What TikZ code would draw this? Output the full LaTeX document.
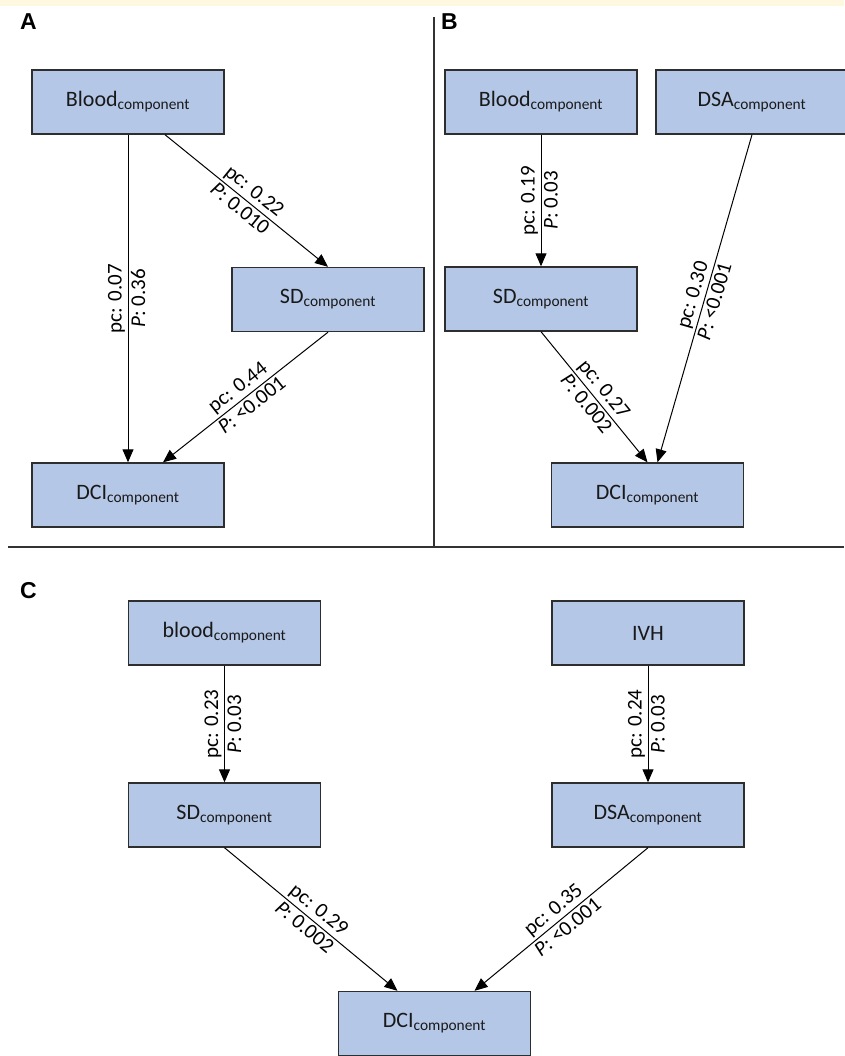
\documentclass[tikz,border=0pt]{standalone}
\usepackage{fontspec}
\setmainfont{Carlito}
\newfontfamily\panelfont{Liberation Sans}
\usepackage{xcolor}
\usepackage{tikz}
\usetikzlibrary{arrows.meta}
\usetikzlibrary{shapes.misc}
\definecolor{boxblue}{HTML}{B4C7E7}
\definecolor{boxline}{HTML}{2E2E2E}
\definecolor{topband}{HTML}{FFF8E1}
\newcommand{\cmpnt}[1]{#1\textsubscript{component}}
\tikzstyle{var} = [rectangle,draw=boxline,line width=1.4pt,fill=boxblue,text=black!90,minimum width=192pt,minimum height=64pt,inner sep=0pt,font=\fontsize{22}{26}\selectfont]
\tikzstyle{arrow} = [line width=1pt,-{Triangle[length=13pt,width=11pt]}]
\tikzstyle{lbl} = [sloped,midway,inner sep=2.5pt,font=\fontsize{21}{25}\selectfont]
\tikzstyle{vlbl} = [rotate=90,midway,inner sep=2.5pt,font=\fontsize{21}{25}\selectfont]
\tikzstyle{panel} = [anchor=base west,inner sep=0pt,font=\panelfont\bfseries\fontsize{23}{27}\selectfont]
\tikzstyle{divider} = [line width=1.4pt,black!80]

\begin{document}
\begin{tikzpicture}[x=1pt,y=-1pt]
\useasboundingbox (0,0) rectangle (844,1056);
\fill[topband] (0,0) rectangle (844,6);
\node[panel] (labA) at (20,30) {A};
\node[panel] (labB) at (441,30) {B};
\node[panel] (labC) at (20,598) {C};
\draw[divider] (434,17) -- (434,547);
\draw[divider] (8,547) -- (844,547);
\node[var] (bloodA) at (128,102) {\cmpnt{Blood}};
\node[var] (sdA) at (328,299.5) {\cmpnt{SD}};
\node[var] (dciA) at (128,495) {\cmpnt{DCI}};
\node[var] (bloodB) at (541,102) {\cmpnt{Blood}};
\node[var] (dsaB) at (752,102) {\cmpnt{DSA}};
\node[var] (sdB) at (541,299) {\cmpnt{SD}};
\node[var] (dciB) at (647.5,495) {\cmpnt{DCI}};
\node[var] (bloodC) at (224.5,633) {\cmpnt{blood}};
\node[var] (ivh) at (648,633) {IVH};
\node[var] (sdC) at (224.5,815) {\cmpnt{SD}};
\node[var] (dsaC) at (648,815) {\cmpnt{DSA}};
\node[var] (dciC) at (434.5,1023.5) {\cmpnt{DCI}};
\draw[arrow] (bloodA.south) -- node[vlbl,above]{pc: 0.07} node[vlbl,below]{\textit{P}: 0.36} (dciA.north);
\draw[arrow] ([xshift=37pt]bloodA.south) -- node[lbl,above]{pc: 0.22} node[lbl,below]{\textit{P}: 0.010} (sdA.north);
\draw[arrow] (sdA.south) -- node[lbl,above]{pc: 0.44} node[lbl,below]{\textit{P}: {<}0.001} ([xshift=35pt]dciA.north);
\draw[arrow] (bloodB.south) -- node[vlbl,above]{pc: 0.19} node[vlbl,below]{\textit{P}: 0.03} (sdB.north);
\draw[arrow] (sdB.south) -- node[lbl,above]{pc: 0.27} node[lbl,below]{\textit{P}: 0.002} (dciB.north);
\draw[arrow] (dsaB.south) -- node[lbl,above]{pc: 0.30} node[lbl,below]{\textit{P}: {<}0.001} ([xshift=10pt]dciB.north);
\draw[arrow] (bloodC.south) -- node[vlbl,above]{pc: 0.23} node[vlbl,below]{\textit{P}: 0.03} (sdC.north);
\draw[arrow] (ivh.south) -- node[vlbl,above]{pc: 0.24} node[vlbl,below]{\textit{P}: 0.03} (dsaC.north);
\draw[arrow] (sdC.south) -- node[lbl,above]{pc: 0.29} node[lbl,below]{\textit{P}: 0.002} ([xshift=-37pt]dciC.north);
\draw[arrow] (dsaC.south) -- node[lbl,above]{pc: 0.35} node[lbl,below]{\textit{P}: {<}0.001} ([xshift=40pt]dciC.north);
\end{tikzpicture}
\end{document}
